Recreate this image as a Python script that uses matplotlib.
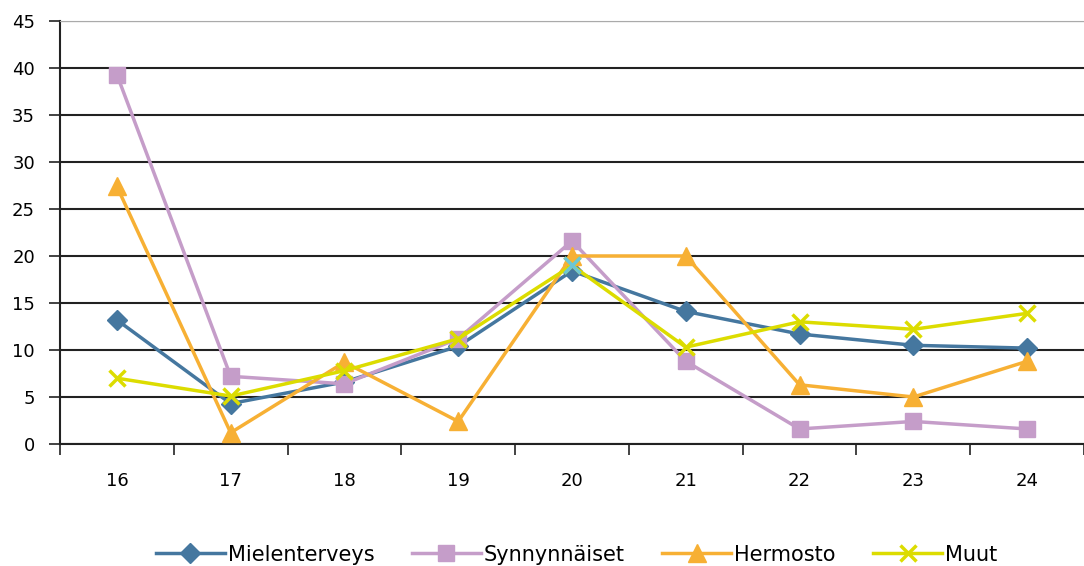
import matplotlib
matplotlib.use('Agg')
from matplotlib import pyplot as plt
import numpy as np

years = [16, 17, 18, 19, 20, 21, 22, 23, 24]
mielenterveys = [13.2, 4.3, 6.6, 10.4, 18.4, 14.1, 11.7, 10.5, 10.2]
synnynnaiset = [39.3, 7.2, 6.4, 11.2, 21.6, 8.8, 1.6, 2.4, 1.6]
hermosto = [27.4, 1.2, 8.7, 2.4, 20.0, 20.0, 6.3, 5.0, 8.8]
muut = [7.0, 5.1, 7.8, 11.2, 19.0, 10.3, 13.0, 12.2, 13.9]

fig = plt.figure(figsize=(10.84, 5.66), dpi=100)
ax = fig.add_axes([60 / 1084, 122 / 566, 1 - 60 / 1084, 423 / 566])

ax.plot(years, mielenterveys, color='#45779F', lw=2.5, marker='D', ms=10, label='Mielenterveys', zorder=3)
ax.plot(years, synnynnaiset, color='#C59DC9', lw=2.5, marker='s', ms=12, label='Synnynnäiset', zorder=3)
ax.plot(years, hermosto, color='#F7B034', lw=2.5, marker='^', ms=13, label='Hermosto', zorder=3)
ax.plot(years, muut, color='#DCDC00', lw=2.5, marker='x', ms=12, mew=2.5, label='Muut', zorder=3)
# one highlighted point in the original
ax.plot([years[4]], [muut[4]], ls='none', marker='x', ms=12, mew=2.5, color='#6DC6D4', zorder=4)

ax.set_xlim(15.5, 24.42)
ax.set_ylim(0, 45)
ax.set_yticks(range(0, 46, 5))
ax.yaxis.grid(True, color='#222222', lw=1.5)
ax.set_axisbelow(True)
ax.tick_params(axis='y', length=8, width=1.2, color='#222222', labelsize=13, pad=10)

ax.set_xticks(years)
ax.tick_params(axis='x', which='major', length=0, labelsize=13, pad=20)
ax.set_xticks(np.arange(15.5, 24.6, 1), minor=True)
ax.tick_params(axis='x', which='minor', length=8, width=1.2, color='#222222', direction='out')

ax.spines['right'].set_visible(False)
ax.spines['top'].set_color('#aaaaaa')
ax.spines['left'].set_color('#222222')
ax.spines['left'].set_linewidth(1.5)
ax.spines['bottom'].set_color('#222222')
ax.spines['bottom'].set_linewidth(1.5)

fig.legend(loc='center', bbox_to_anchor=(0.532, 0.02), ncol=4, frameon=False,
           fontsize=15, handlelength=3.3, columnspacing=1.8, handletextpad=0.15)

fig.savefig('out.png', dpi=100)
